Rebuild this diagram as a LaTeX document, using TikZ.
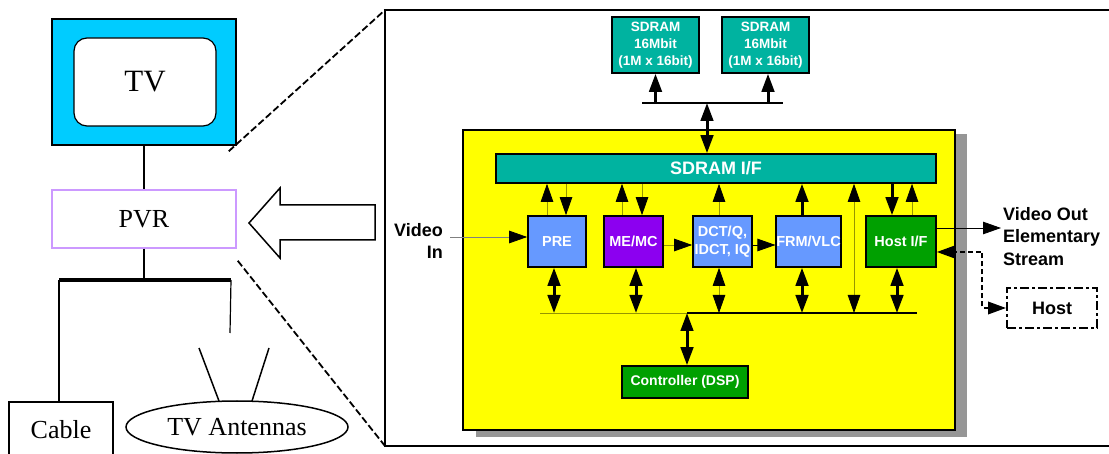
\documentclass[tikz,border=0pt]{standalone}
\usepackage{fontspec}
\setmainfont{Liberation Serif}
\setsansfont{Liberation Sans}
\usetikzlibrary{arrows.meta,shapes.geometric}
\definecolor{tvcyan}{RGB}{0,204,255}
\definecolor{pvrlav}{RGB}{204,153,255}
\definecolor{chipyel}{RGB}{255,255,0}
\definecolor{teal2}{RGB}{0,179,160}
\definecolor{blueblk}{RGB}{102,153,255}
\definecolor{purpblk}{RGB}{140,0,240}
\definecolor{greenblk}{RGB}{0,160,0}
\definecolor{olive2}{RGB}{150,150,0}
\definecolor{shadowgray}{RGB}{150,150,150}
\begin{document}
\begin{tikzpicture}[x=1pt,y=-1pt,
  >={Triangle[length=18pt,width=12.5pt,color=black]},
  blk/.style={draw, line width=1.6pt, inner sep=0pt, text=white, align=center,
    font=\fontsize{14.5}{17}\selectfont\sffamily\bfseries},
  serifbox/.style={inner sep=0pt, font=\fontsize{26}{28}\selectfont},
  lbl/.style={inner sep=0pt, font=\fontsize{18}{22.5}\selectfont\sffamily\bfseries},
  thickarr/.style={line width=3pt, black},
  thinarr/.style={line width=0.8pt, olive2},
  zoomline/.style={line width=1.8pt, dash pattern=on 7pt off 3pt}
]
\useasboundingbox (0,0) rectangle (1109,454);
\clip (0,0) rectangle (1109,454);

% ---------------- left side ----------------
\node[draw, line width=1.5pt, fill=tvcyan, minimum width=184pt, minimum height=126pt, inner sep=0pt] (tv) at (144,82) {};
\node[draw, line width=1.2pt, fill=white, rounded corners=13pt, minimum width=142pt, minimum height=88pt, inner sep=0pt,
  font=\fontsize{31}{31}\selectfont] (screen) at (145,82) {TV};
\node[draw=pvrlav, line width=1.5pt, fill=white, minimum width=184pt, minimum height=58pt, serifbox] (pvr) at (144,219) {PVR};
\draw[line width=1.5pt] (tv.south) -- (pvr.north);
\coordinate (barM) at (144,280);
\coordinate (barL) at (59,280);
\coordinate (barR) at (231,280);
\draw[line width=1.5pt] (pvr.south) -- (barM);
\draw[line width=4pt] (barL) -- (barR);
\node[draw, line width=1.5pt, minimum width=104pt, minimum height=60pt, inner sep=0pt, anchor=north] (cable) at (61,401) {};
\node[serifbox] (cabletxt) at (61,430) {Cable};
\draw[line width=1.2pt] (barL) -- (cable.north -| barL);
\node[draw, line width=1.5pt, ellipse, minimum width=222pt, minimum height=52pt, inner sep=0pt, serifbox] (ant) at (237,427) {TV Antennas};
\coordinate (antstub) at (230,333);
\draw[line width=1.2pt] (barR) -- (antstub);
\coordinate (antL) at (199,348);
\coordinate (antR) at (269,348);
\draw[line width=1.5pt] (antL) -- (219,401);
\draw[line width=1.5pt] (antR) -- (252,401);

% big hollow arrow
\draw[line width=1.5pt, fill=white] (249,223) -- (280,188) -- (280,205) -- (375,205) -- (375,240) -- (280,240) -- (280,258) -- cycle;

% zoom lines and frame
\coordinate (frameTL) at (385,10);
\coordinate (frameBL) at (385,446);
\draw[zoomline] (pvr.north east) ++(-8,-38) -- (frameTL);
\draw[zoomline] (pvr.south east) ++(1,12) -- (frameBL);
\draw[line width=2pt] (1115,10) -- (frameTL) -- (frameBL) -- (1115,446);

% ---------------- chip ----------------
\fill[shadowgray] (476,134) rectangle (967,437);
\node[draw, line width=1.8pt, fill=chipyel, minimum width=492pt, minimum height=300pt, inner sep=0pt] (chip) at (709,280) {};

\node[blk, fill=teal2, minimum width=87pt, minimum height=56pt, font=\fontsize{13.5}{17}\selectfont\sffamily\bfseries] (chip1) at (655.5,45) {SDRAM\\16Mbit\\(1M x 16bit)};
\node[blk, fill=teal2, minimum width=87pt, minimum height=56pt, font=\fontsize{13.5}{17}\selectfont\sffamily\bfseries] (chip2) at (765.5,45) {SDRAM\\16Mbit\\(1M x 16bit)};
\node[blk, fill=teal2, minimum width=440pt, minimum height=29pt, font=\fontsize{18}{20}\selectfont\sffamily\bfseries] (sdif) at (716,168.5) {SDRAM I/F};

\node[blk, fill=blueblk, minimum width=58pt, minimum height=51pt] (pre) at (557,241.5) {PRE};
\node[blk, fill=purpblk, minimum width=59pt, minimum height=51pt] (me) at (633.5,241.5) {ME/MC};
\node[blk, fill=blueblk, minimum width=59pt, minimum height=51pt, font=\fontsize{14.5}{18}\selectfont\sffamily\bfseries] (dct) at (722.5,241.5) {DCT/Q,\\IDCT, IQ};
\node[blk, fill=blueblk, minimum width=63pt, minimum height=51pt] (frm) at (808.5,241.5) {FRM/VLC};
\node[blk, fill=greenblk, minimum width=70pt, minimum height=51pt] (hif) at (901,241.5) {Host I/F};
\node[blk, fill=greenblk, minimum width=126pt, minimum height=32pt, font=\fontsize{14}{17}\selectfont\sffamily\bfseries] (ctrl) at (685,382) {Controller (DSP)};

% top bus
\coordinate (tbus) at (707,103);
\draw[line width=2.5pt] (642,103) -- (783,103);
\draw[thickarr,->] (chip1.south |- tbus) -- (chip1.south);
\draw[thickarr,->] ([xshift=2.5pt]chip2.south |- tbus) -- ([xshift=2.5pt]chip2.south);
\draw[thickarr,<->] (tbus) -- (tbus |- sdif.north);

% SDRAM I/F <-> blocks
\draw[thinarr,->] ([xshift=-10pt]pre.north) -- ([xshift=-10pt]pre.north |- sdif.south);
\draw[thinarr,->] ([xshift=9pt]pre.north |- sdif.south) -- ([xshift=9pt]pre.north);
\draw[thinarr,->] ([xshift=-11.5pt]me.north) -- ([xshift=-11.5pt]me.north |- sdif.south);
\draw[thinarr,->] ([xshift=8.5pt]me.north |- sdif.south) -- ([xshift=8.5pt]me.north);
\draw[thinarr,->] ([xshift=-3.5pt]dct.north) -- ([xshift=-3.5pt]dct.north |- sdif.south);
\draw[thickarr,->] ([xshift=-6.5pt]frm.north) -- ([xshift=-6.5pt]frm.north |- sdif.south);
\draw[thickarr,->] ([xshift=-9pt]hif.north |- sdif.south) -- ([xshift=-9pt]hif.north);
\draw[thinarr,->] ([xshift=11pt]hif.north) -- ([xshift=11pt]hif.north |- sdif.south);

% lower bus
\coordinate (lbusL) at (540,313);
\coordinate (lbusC) at (687,313);
\coordinate (lbusR) at (917,313);
\draw[line width=0.8pt, olive2] (lbusL) -- (lbusC);
\draw[line width=2pt] (lbusC) -- (lbusR);
\coordinate (side) at (854,313);
\draw[thinarr,<->] (side |- sdif.south) -- (side);

\draw[thickarr,<->] ([xshift=-3pt]pre.south) -- ([xshift=-3pt]pre.south |- lbusL);
\draw[thickarr,<->] ([xshift=2.5pt]me.south) -- ([xshift=2.5pt]me.south |- lbusL);
\draw[thinarr,<->] ([xshift=-3.5pt]dct.south) -- ([xshift=-3.5pt]dct.south |- lbusL);
\draw[thickarr,<->] ([xshift=-6.5pt]frm.south) -- ([xshift=-6.5pt]frm.south |- lbusL);
\draw[thickarr,<->] ([xshift=-4pt]hif.south) -- ([xshift=-4pt]hif.south |- lbusL);
\draw[thickarr,<->] (lbusC) -- (lbusC |- ctrl.north);

% horizontal data flow
\coordinate (vin) at (450,237);
\draw[line width=0.8pt, gray, ->] (vin) -- (vin -| pre.west);
\draw[thinarr,->] ([yshift=-3.5pt]me.east) -- ([yshift=-3.5pt]dct.west);
\draw[line width=0.8pt, black, ->] ([yshift=-3.5pt]dct.east) -- ([yshift=-3.5pt]frm.west);
\coordinate (vout) at (1001,228);
\draw[line width=0.8pt, black, ->] (hif.east |- vout) -- (vout);

% labels
\node[lbl, align=right, anchor=east] (vinlbl) at (443,241) {Video\\In};
\node[lbl, align=left, anchor=north west] (voutlbl) at (1003,207) {Video Out\\Elementary\\Stream};

% host
\node[draw, line width=2pt, dash pattern=on 9pt off 3pt on 3pt off 3pt, minimum width=90pt, minimum height=40pt, inner sep=0pt,
  font=\fontsize{18}{20}\selectfont\sffamily\bfseries] (host) at (1052,308) {Host};
\coordinate (hbend) at (982,252);
\draw[line width=2pt, dash pattern=on 5pt off 3pt, <->] (host.west) -| (hbend) -- ([yshift=-10.5pt]hif.east);
\end{tikzpicture}
\end{document}
